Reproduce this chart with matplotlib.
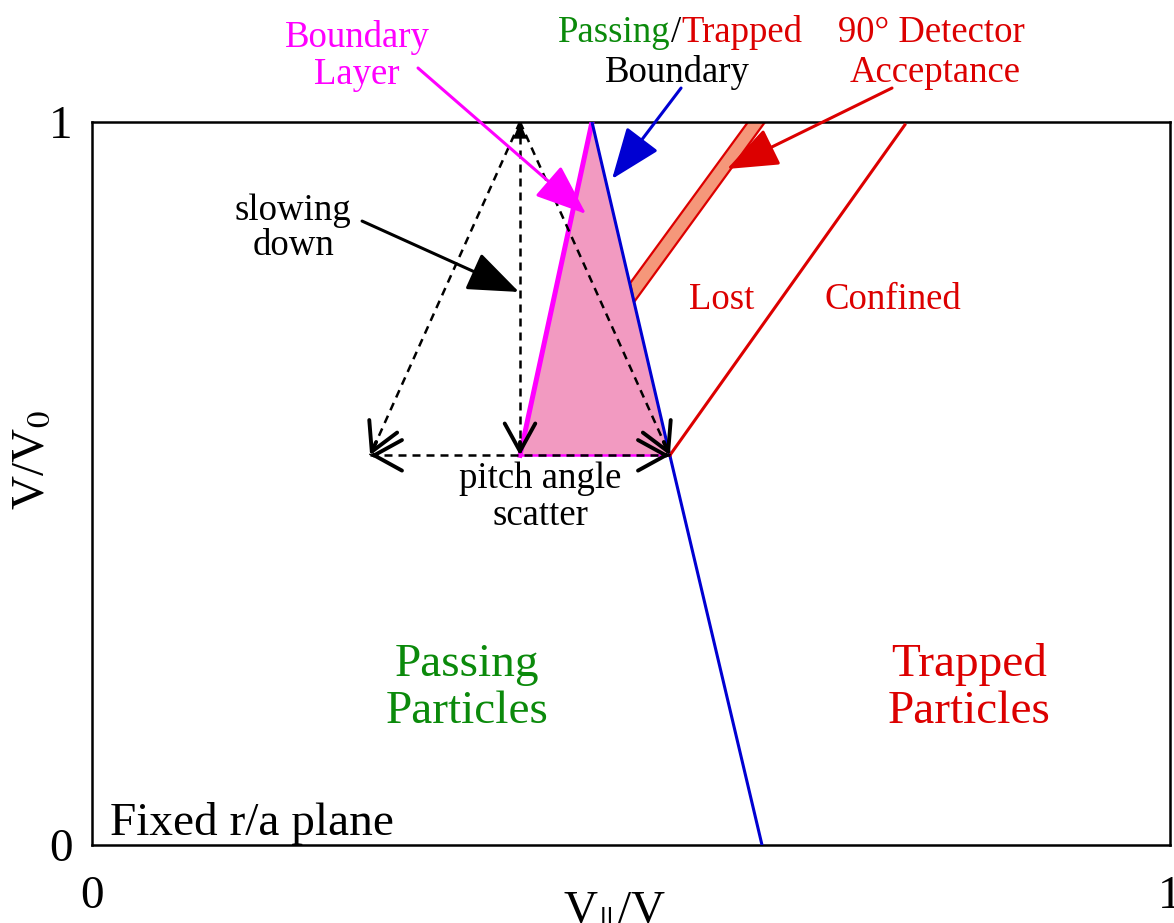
import numpy as np
import matplotlib
matplotlib.use("Agg")
import matplotlib.pyplot as plt
from matplotlib.patches import Polygon

plt.rcParams["font.family"] = ["Liberation Serif", "DejaVu Serif"]
plt.rcParams["mathtext.fontset"] = "stix"

# --- diagram geometry, in (V_par/V, V/V0) units ---
boundary_x = [0.4638, 0.536, 0.6215]
boundary_y = [1.0, 0.539, 0.0]

layer_x = [0.4638, 0.397, 0.536]
layer_y = [1.0, 0.539, 0.539]

confined_x = [0.536, 0.754]
confined_y = [0.539, 0.996]

detector_x = [0.6085, 0.6243, 0.5028, 0.4991]
detector_y = [1.0, 1.0, 0.751, 0.777]

scatter_apex = (0.397, 1.0)
scatter_mid = (0.397, 0.539)
scatter_left = (0.258, 0.539)
scatter_right = (0.536, 0.539)

ticks = [0, 1]

GREEN = "#0b8a0b"
RED = "#dc0000"
BLUE = "#0000d2"
MAGENTA = "#ff00ff"
PINK = "#f29ac1"
SALMON = "#f5977a"

fig = plt.figure(figsize=(11.74, 9.23), dpi=100)
ax = fig.add_axes([0.0784, 0.0845, 0.9182, 0.7833])
ax.set_xlim(0, 1)
ax.set_ylim(0, 1)
for s in ax.spines.values():
    s.set_linewidth(1.8)
ax.set_xticks(ticks)
ax.set_yticks(ticks)
ax.set_xticklabels([str(t) for t in ticks])
ax.set_yticklabels([str(t) for t in ticks])
ax.tick_params(axis="x", length=0, pad=22, labelsize=34)
ax.tick_params(axis="y", length=0, pad=14, labelsize=34)
ax.set_xlabel(r"V$_{\|}$/V", fontsize=34)
ax.set_ylabel(r"V/V$_0$", fontsize=34)
ax.xaxis.set_label_coords(0.485, -0.062)
ax.yaxis.set_label_coords(-0.036, 0.532)

# boundary layer triangle
ax.add_patch(Polygon(np.column_stack([layer_x, layer_y]), closed=True,
                     facecolor=PINK, edgecolor="none", zorder=1))
ax.plot(layer_x[:2], layer_y[:2], color=MAGENTA, lw=3.6, zorder=3)
ax.plot(layer_x[1:], layer_y[1:], color=MAGENTA, lw=1.8, zorder=2)

# detector acceptance band
ax.add_patch(Polygon(np.column_stack([detector_x, detector_y]), closed=True,
                     facecolor=SALMON, edgecolor=RED, lw=1.6, zorder=2))

# passing/trapped boundary and confined line
ax.plot(boundary_x, boundary_y, color=BLUE, lw=2.2, zorder=4)
ax.plot(confined_x, confined_y, color=RED, lw=2.2, zorder=4)

# dashed pitch-angle / slowing-down paths
dash = (0, (3.2, 2.4))
ends = [scatter_left, scatter_mid, scatter_right]
for end in ends:
    ax.plot([scatter_apex[0], end[0]], [scatter_apex[1], end[1]],
            color="black", lw=1.8, ls=dash, zorder=5)
ax.plot([scatter_left[0], scatter_right[0]], [scatter_left[1], scatter_right[1]],
        color="black", lw=1.8, ls=dash, zorder=5)


def open_head(tip, frm):
    tip = np.asarray(tip)
    frm = np.asarray(frm)
    start = tip + (frm - tip) * 0.04
    ax.annotate("", xy=tip, xytext=start,
                arrowprops=dict(arrowstyle="->,head_length=1.0,head_width=0.55",
                                mutation_scale=20, lw=2.8, color="black",
                                shrinkA=0, shrinkB=0), zorder=6)


for end in ends:
    open_head(end, scatter_apex)
open_head(scatter_left, scatter_mid)
open_head(scatter_right, scatter_mid)
ax.annotate("", xy=scatter_apex, xytext=(scatter_apex[0], scatter_apex[1] - 0.04),
            arrowprops=dict(arrowstyle="-|>,head_length=0.6,head_width=0.25",
                            mutation_scale=20, lw=0, color="black",
                            shrinkA=0, shrinkB=0), zorder=6)


def pointer(text_xy, tip, color):
    ax.annotate("", xy=tip, xytext=text_xy,
                arrowprops=dict(arrowstyle="-|>,head_length=1.6,head_width=0.62",
                                mutation_scale=20, lw=2.2, color=color,
                                shrinkA=0, shrinkB=0),
                annotation_clip=False, zorder=7)


pointer((0.3024, 1.0747), (0.4583, 0.8728), MAGENTA)
pointer((0.5464, 1.047), (0.4824, 0.9212), BLUE)
pointer((0.7421, 1.047), (0.589, 0.935), RED)
pointer((0.2505, 0.863), (0.3961, 0.7649), "black")

# labels inside the plot
kw = dict(ha="center", va="center", fontsize=26.5, zorder=8)
ax.text(0.1865, 0.853, "slowing\ndown", color="black", linespacing=1.0, **kw)
ax.text(0.4156, 0.481, "pitch angle\nscatter", color="black", linespacing=1.13, **kw)
ax.text(0.5844, 0.754, "Lost", color=RED, **kw)
ax.text(0.743, 0.754, "Confined", color=RED, **kw)

big = dict(ha="center", va="center", fontsize=34, linespacing=1.16)
ax.text(0.3479, 0.217, "Passing\nParticles", color=GREEN, **big)
ax.text(0.8135, 0.217, "Trapped\nParticles", color=RED, **big)
ax.text(0.0167, 0.0138, "Fixed r/a plane", ha="left", va="baseline",
        fontsize=34, color="black")

# labels above the plot
top = dict(ha="center", va="center", fontsize=26.5, clip_on=False)
ax.text(0.2458, 1.091, "Boundary\nLayer", color=MAGENTA, linespacing=1.1, **top)
ax.text(0.779, 1.124, "90° Detector", color=RED, **top)
ax.text(0.782, 1.068, "Acceptance", color=RED, **top)
ax.text(0.5427, 1.068, "Boundary", color="black", **top)
t1 = ax.text(0.4323, 1.124, "Passing", color=GREEN, ha="left", va="center",
             fontsize=26.5, clip_on=False)
t2 = ax.annotate("/", xy=(1, 0), xycoords=t1, va="bottom", ha="left",
                 fontsize=26.5, color="black")
ax.annotate("Trapped", xy=(1, 0), xycoords=t2, va="bottom", ha="left",
            fontsize=26.5, color=RED)

fig.savefig("out.png", dpi=100)
